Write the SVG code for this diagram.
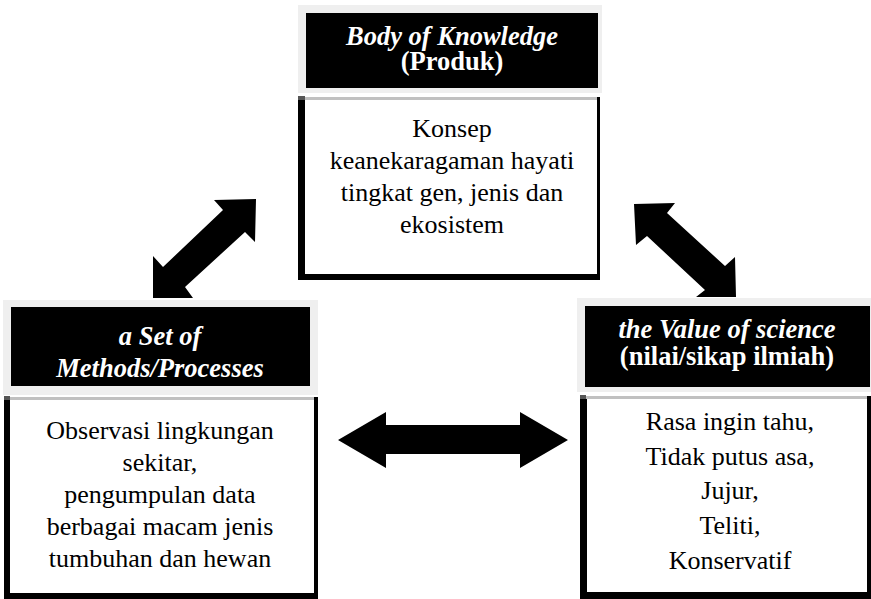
<svg xmlns="http://www.w3.org/2000/svg" width="871" height="599" viewBox="0 0 871 599">
<style>
.frame{fill:#efefef}
.hdr{fill:#000}
.body{fill:#fff}
.bk{fill:#000}
.gl{fill:#c0c0c0}
.sq{fill:#555}
text{font-family:"Liberation Serif","Times New Roman",serif;font-size:26px;text-anchor:middle}
.ht{fill:#fff;font-weight:bold;font-size:26.5px}
.it{font-style:italic}
.bt{fill:#000}
.arrow{fill:#000}
</style>
<rect x="0" y="0" width="871" height="599" fill="#fff"/>
<g id="connectors">
<polygon class="arrow" points="256,199 255,242 245,232 185,287 193,298 153,298 153,256 163,267 223,210 214,200"/>
<polygon class="arrow" points="634,204 675,203 667,213 725,266 735,257 736,297 696,297 705,290 647,236 636,245"/>
<polygon class="arrow" points="338,440 386,412 386,425 520,425 520,412 568,440 520,468 520,454 386,454 386,468"/>
</g>
<g id="node-body-of-knowledge">
<rect class="frame" x="298" y="5" width="304" height="88"/>
<rect class="hdr" x="306" y="13" width="292" height="75"/>
<text class="ht it" x="452" y="45">Body of Knowledge</text>
<text class="ht" x="452" y="70">(Produk)</text>
<rect class="body" x="298" y="96" width="302" height="184"/>
<rect class="gl" x="305" y="97" width="295" height="3"/>
<rect class="sq" x="298" y="96" width="7" height="4"/>
<rect class="bk" x="298" y="100" width="7" height="180"/>
<rect class="bk" x="298" y="274" width="302" height="6"/>
<rect class="bk" x="597" y="97" width="3" height="183"/>
<text class="bt" x="452" y="137">Konsep</text>
<text class="bt" x="452" y="169">keanekaragaman hayati</text>
<text class="bt" x="452" y="201">tingkat gen, jenis dan</text>
<text class="bt" x="452" y="233">ekosistem</text>
</g>
<g id="node-methods">
<rect class="frame" x="3" y="300" width="315" height="95"/>
<rect class="hdr" x="11" y="307" width="299" height="79"/>
<text class="ht it" x="160" y="345">a Set of</text>
<text class="ht it" x="160" y="377">Methods/Processes</text>
<rect class="body" x="4" y="396" width="314" height="203"/>
<rect class="gl" x="10" y="397" width="308" height="3"/>
<rect class="sq" x="4" y="396" width="6" height="4"/>
<rect class="bk" x="4" y="400" width="6" height="199"/>
<rect class="bk" x="4" y="593" width="314" height="6"/>
<rect class="bk" x="314" y="397" width="4" height="202"/>
<text class="bt" x="160" y="439">Observasi lingkungan</text>
<text class="bt" x="160" y="471">sekitar,</text>
<text class="bt" x="160" y="503">pengumpulan data</text>
<text class="bt" x="160" y="535">berbagai macam jenis</text>
<text class="bt" x="160" y="567">tumbuhan dan hewan</text>
</g>
<g id="node-value-of-science">
<rect class="frame" x="577" y="298" width="294" height="94"/>
<rect class="hdr" x="585" y="306" width="285" height="81"/>
<text class="ht it" x="727" y="338">the Value of science</text>
<text class="ht" x="727" y="365">(nilai/sikap ilmiah)</text>
<rect class="body" x="580" y="395" width="291" height="204"/>
<rect class="gl" x="586" y="396" width="285" height="3"/>
<rect class="sq" x="580" y="395" width="6" height="4"/>
<rect class="bk" x="580" y="399" width="7" height="200"/>
<rect class="bk" x="580" y="592" width="291" height="7"/>
<rect class="bk" x="867" y="396" width="4" height="203"/>
<text class="bt" x="730" y="430">Rasa ingin tahu,</text>
<text class="bt" x="730" y="465">Tidak putus asa,</text>
<text class="bt" x="730" y="499">Jujur,</text>
<text class="bt" x="730" y="534">Teliti,</text>
<text class="bt" x="730" y="569">Konservatif</text>
</g>
</svg>
